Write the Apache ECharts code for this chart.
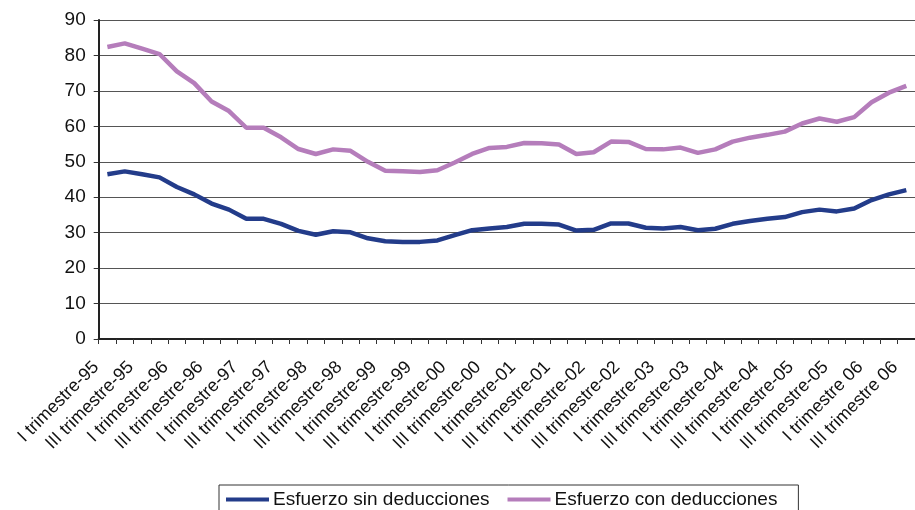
<!DOCTYPE html>
<html>
<head>
<meta charset="utf-8">
<script src="https://cdn.jsdelivr.net/npm/echarts@6/dist/echarts.min.js"></script>
<style>html,body{margin:0;padding:0;background:#fff;}#c{width:915px;height:510px;}</style>
</head>
<body>
<div id="c"></div>
<script>
const categories = [
  "I trimestre-95","II trimestre-95","III trimestre-95","IV trimestre-95",
  "I trimestre-96","II trimestre-96","III trimestre-96","IV trimestre-96",
  "I trimestre-97","II trimestre-97","III trimestre-97","IV trimestre-97",
  "I trimestre-98","II trimestre-98","III trimestre-98","IV trimestre-98",
  "I trimestre-99","II trimestre-99","III trimestre-99","IV trimestre-99",
  "I trimestre-00","II trimestre-00","III trimestre-00","IV trimestre-00",
  "I trimestre-01","II trimestre-01","III trimestre-01","IV trimestre-01",
  "I trimestre-02","II trimestre-02","III trimestre-02","IV trimestre-02",
  "I trimestre-03","II trimestre-03","III trimestre-03","IV trimestre-03",
  "I trimestre-04","II trimestre-04","III trimestre-04","IV trimestre-04",
  "I trimestre-05","II trimestre-05","III trimestre-05","IV trimestre-05",
  "I trimestre 06","II trimestre 06","III trimestre 06"
];
const sinDeducciones = [
  46.5,47.3,46.5,45.6,42.9,40.8,38.2,36.5,33.9,33.9,32.5,30.5,
  29.4,30.4,30.1,28.4,27.6,27.4,27.4,27.8,29.3,30.7,31.2,31.6,
  32.5,32.5,32.3,30.6,30.8,32.6,32.6,31.4,31.2,31.6,30.7,31.1,
  32.5,33.3,33.9,34.4,35.8,36.5,36.0,36.8,39.2,40.8,42.0
];
const conDeducciones = [
  82.4,83.4,81.9,80.4,75.5,72.2,67.0,64.3,59.6,59.6,56.9,53.6,
  52.2,53.5,53.1,50.0,47.5,47.3,47.1,47.6,49.8,52.2,53.9,54.2,
  55.3,55.2,54.9,52.2,52.7,55.7,55.6,53.6,53.5,54.0,52.5,53.5,
  55.7,56.8,57.6,58.5,60.8,62.2,61.3,62.6,66.8,69.5,71.4
];
const yTicks = [0,10,20,30,40,50,60,70,80,90];
const seriesNames = ["Esfuerzo sin deducciones","Esfuerzo con deducciones"];

const font = "'Liberation Sans', Arial, sans-serif";
const chart = echarts.init(document.getElementById('c'), null, {renderer:'canvas'});
chart.setOption({
  animation:false,
  backgroundColor:'#fff',
  textStyle:{fontFamily:font},
  grid:{left:98.7, top:20, width:822.5, height:319, containLabel:false},
  legend:{
    data:seriesNames,
    left:219, top:485,
    padding:[5,21,14,7],
    itemGap:18,
    itemWidth:43, itemHeight:4,
    icon:'rect',
    borderColor:'#333', borderWidth:1,
    textStyle:{fontFamily:font, fontSize:19, color:'#111', padding:[0,0,0,-1]}
  },
  xAxis:{
    type:'category',
    data:categories,
    boundaryGap:true,
    axisLine:{lineStyle:{color:'#222', width:2}},
    axisTick:{show:true, interval:0, length:5, lineStyle:{color:'#333', width:1}},
    axisLabel:{interval:1, rotate:45, fontSize:18, color:'#111', margin:14,
      padding:[0,16,0,0], fontFamily:font},
    splitLine:{show:false}
  },
  yAxis:{
    type:'value',
    min:yTicks[0], max:yTicks[yTicks.length-1], interval:10,
    axisLine:{show:true, lineStyle:{color:'#222', width:2}},
    axisTick:{show:true, length:5, lineStyle:{color:'#333', width:1}},
    axisLabel:{fontSize:19, color:'#111', margin:13, fontFamily:font},
    splitLine:{show:true, lineStyle:{color:'#555', width:1.2}}
  },
  series:[
    {name:seriesNames[0], type:'line', data:sinDeducciones, showSymbol:false, symbol:'none',
     lineStyle:{color:'#233C8A', width:4.5}, itemStyle:{color:'#233C8A'}},
    {name:seriesNames[1], type:'line', data:conDeducciones, showSymbol:false, symbol:'none',
     lineStyle:{color:'#B57DBB', width:4.5}, itemStyle:{color:'#B57DBB'}}
  ]
});
</script>
</body>
</html>
